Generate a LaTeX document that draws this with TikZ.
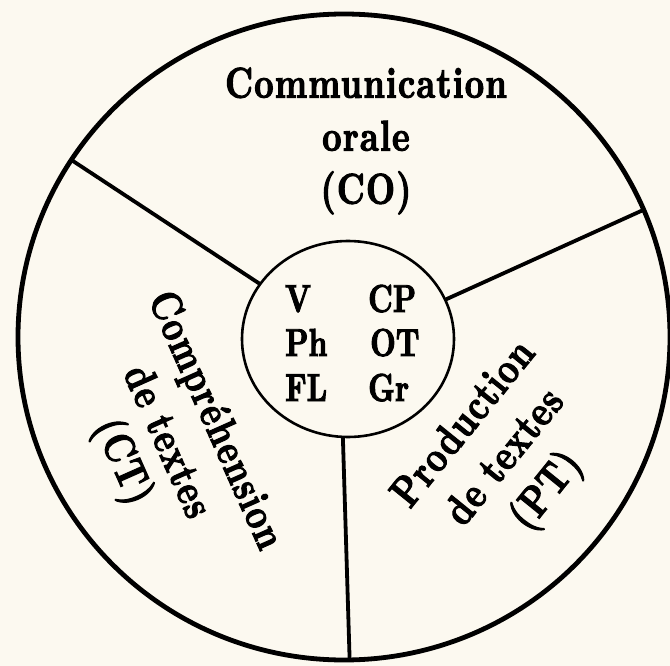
\documentclass[tikz,border=0pt]{standalone}
\usepackage{fontspec}
\newfontfamily\labfont{lmroman10-bold.otf}[FakeStretch=0.78, LetterSpace=3, FakeBold=2.5]
\newfontfamily\abbrfont{lmroman10-bold.otf}[FakeStretch=0.76, FakeBold=2.5]
\usetikzlibrary{shapes.geometric}
\definecolor{paper}{RGB}{252,249,240}
\begin{document}
\begin{tikzpicture}[x=1pt,y=-1pt,
  rim/.style={ellipse, draw, line width=4.8pt, inner sep=0pt, outer sep=0pt, minimum width=652pt, minimum height=646pt},
  core/.style={ellipse, draw, line width=2.6pt, inner sep=0pt, outer sep=0pt, minimum width=212pt, minimum height=196pt},
  sep/.style={line width=3.8pt},
  lab/.style={font=\labfont\fontsize{43}{53}\selectfont, align=center, inner sep=0pt},
  abbr/.style={font=\abbrfont\fontsize{39}{43}\selectfont, anchor=base west, inner sep=0pt}]
\fill[paper] (0,0) rectangle (670,666);
\useasboundingbox (0,0) rectangle (670,666);
\node[rim] (rim) at (344,337) {};
\node[core] (core) at (348,339) {};
\draw[sep] (core.148) -- (rim.147);
\draw[sep] (core.22) -- (rim.23.5);
\draw[sep] (core.267) -- (rim.271);
\node[lab] (co) at (366,141) {Communication\\orale\\(CO)};
\node[lab, rotate=-66] (ct) at (167,442) {Compréhension\\de textes\\[-5pt](CT)};
\node[lab, rotate=51] (pt) at (507,459) {Production\\de textes\\(PT)};
\node[abbr] (v) at (285,312) {V};
\node[abbr] (cp) at (368,312) {CP};
\node[abbr] (ph) at (285,356) {Ph};
\node[abbr] (ot) at (370,356) {OT};
\node[abbr] (fl) at (285,401) {FL};
\node[abbr] (gr) at (368,401) {Gr};
\end{tikzpicture}
\end{document}
